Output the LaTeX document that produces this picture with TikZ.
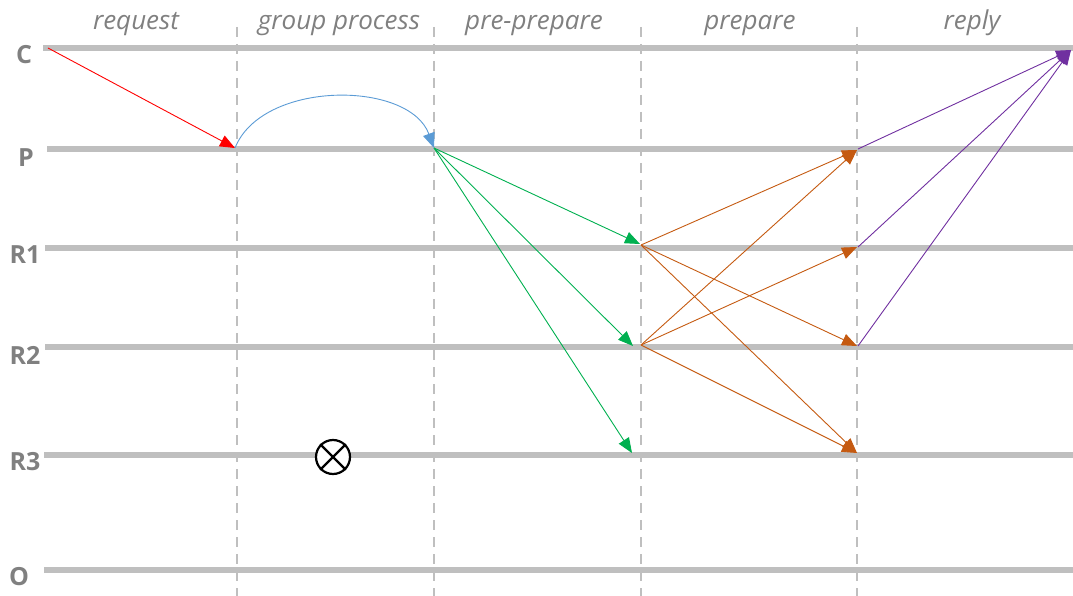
\documentclass[tikz,border=0pt]{standalone}
\usepackage{fontspec}
\setmainfont{Open Sans}
\usepackage{tikz}
\usetikzlibrary{arrows.meta}

\definecolor{lanegray}{HTML}{BFBFBF}
\definecolor{textgray}{HTML}{808080}
\definecolor{reqred}{HTML}{FF0000}
\definecolor{grpblue}{HTML}{5B9BD5}
\definecolor{preprgreen}{HTML}{00B050}
\definecolor{prorange}{HTML}{C55A11}
\definecolor{reppurple}{HTML}{7030A0}

\begin{document}
\begin{tikzpicture}[x=1pt,y=-1pt,
    lane/.style={line width=6pt,lanegray},
    phase/.style={lanegray,line width=1.6pt,dash pattern=on 10pt off 7pt},
    party/.style={font=\fontsize{25}{28}\selectfont\bfseries,text=textgray},
    stage/.style={font=\fontsize{26}{29}\selectfont\itshape,text=textgray,anchor=base},
    msg/.style={line width=0.9pt,-{Triangle[length=15pt,width=12pt]}}]
    \useasboundingbox (0,0) rectangle (1073,596);

    % phase borders
    \draw[phase] (237,27)--(237,596);
    \draw[phase] (434,27)--(434,596);
    \draw[phase] (641,27)--(641,596);
    \draw[phase] (857,27)--(857,596);

    \node[stage] (req) at (136,30) {request};
    \node[stage] (grp) at (339,30) {group process};
    \node[stage] (ppr) at (534,30) {pre-prepare};
    \node[stage] (pre) at (750,30) {prepare};
    \node[stage] (rep) at (972,30) {reply};

    % lanes
    \node[party] (C) at (24,55) {C};
    \node[party] (P) at (26,158) {P};
    \node[party] (R1) at (25,255) {R1};
    \node[party] (R2) at (25,355) {R2};
    \node[party] (R3) at (25,462) {R3};
    \node[party] (O) at (19,577) {O};
    \draw[lane] (43,48)--(1073,48);
    \draw[lane] (47,149)--(1073,149);
    \draw[lane] (45,248)--(1073,248);
    \draw[lane] (45,347)--(1073,347);
    \draw[lane] (44,455)--(1073,455);
    \draw[lane] (44,570)--(1073,570);

    % message points
    \coordinate (c0) at (48,48);
    \coordinate (c1) at (1071,50);
    \coordinate (p1) at (235,148);
    \coordinate (p2) at (434,148);
    \coordinate (p3) at (857,150);
    \coordinate (r1a) at (640,244);
    \coordinate (r1b) at (857,247);
    \coordinate (r2a) at (633,346);
    \coordinate (r2b) at (857,346);
    \coordinate (r3a) at (632,453);
    \coordinate (r3b) at (857,453);

    \draw[msg,reqred] (c0)--(p1);
    \draw[msg,grpblue] (p1) .. controls (262,80) and (409,80) .. (p2);

    \draw[msg,preprgreen] (p2)--(r1a);
    \draw[msg,preprgreen] (p2)--(r2a);
    \draw[msg,preprgreen] (p2)--(r3a);

    \draw[msg,prorange] (641,245)--(p3);
    \draw[msg,prorange] (641,245)--(r2b);
    \draw[msg,prorange] (641,245)--(r3b);
    \draw[msg,prorange] (641,345)--(p3);
    \draw[msg,prorange] (641,345)--(r1b);
    \draw[msg,prorange] (641,345)--(r3b);

    \draw[msg,reppurple] (858,149)--(c1);
    \draw[msg,reppurple] (858,247)--(c1);
    \draw[msg,reppurple] (858,346)--(c1);

    % faulty replica
    \node[draw,circle,fill=white,minimum size=34pt,inner sep=0pt,line width=2.2pt] (fail) at (333,457) {};
    \draw[line width=2.2pt] (fail.north west)--(fail.south east);
    \draw[line width=2.2pt] (fail.north east)--(fail.south west);
\end{tikzpicture}
\end{document}
